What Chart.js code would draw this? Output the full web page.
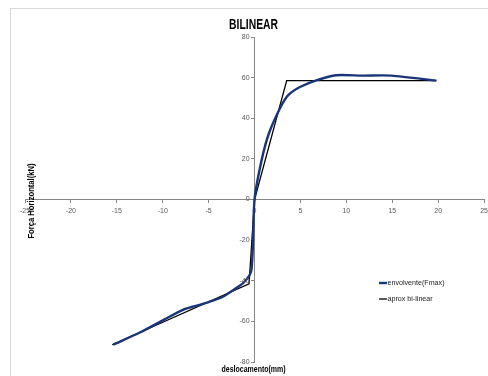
<!DOCTYPE html>
<html>
<head>
<meta charset="utf-8">
<script src="https://cdn.jsdelivr.net/npm/chart.js@4/dist/chart.umd.min.js"></script>
<style>
  html, body { margin: 0; padding: 0; background: #fff; overflow: hidden; }
  #wrap { position: relative; width: 488px; height: 376px; overflow: hidden; }
</style>
</head>
<body>
<div id="wrap"><canvas id="c" width="492" height="376"></canvas></div>
<script>
// Envelope of maximum horizontal force vs displacement
const envDisp  = [-15.4, -12.5, -9.8, -7.8, -6.5, -5.0, -3.5, -2.3, -1.2, -0.35, 0, 0.8, 1.6, 2.9, 3.7, 5.0, 6.8, 8.9, 11.8, 14.9, 19.8];
const envForce = [-71.5, -65.5, -59.0, -54.3, -52.5, -50.5, -48.0, -44.5, -41.0, -35.0, 0, 20.0, 33.0, 46.0, 51.5, 55.5, 58.8, 61.2, 61.0, 61.0, 58.5];

// Bilinear approximation
const biDisp  = [-15.5, -0.6, 0, 3.5, 19.8];
const biForce = [-71.5, -41.5, 0, 58.5, 58.5];

const xTicks = [-25, -20, -15, -10, -5, 0, 5, 10, 15, 20, 25];
const yTicks = [-80, -60, -40, -20, 0, 20, 40, 60, 80];

const seriesNames = ['envolvente(Fmax)', 'aprox bi-linear'];
const chartTitle = 'BILINEAR';
const xTitle = 'deslocamento(mm)';
const yTitle = 'Força Horizontal(kN)';

const toPoints = (xs, ys) => xs.map((x, i) => ({ x: x, y: ys[i] }));

const FONT = '"Liberation Sans", Arial, sans-serif';
const TICK_COLOR = '#595959';

// text squeezed horizontally to a narrow face
function narrowText(ctx, text, x, y, sx) {
  ctx.save();
  ctx.translate(x, y);
  ctx.scale(sx, 1);
  ctx.fillText(text, 0, 0);
  ctx.restore();
}

// Frame, titles, y tick labels and legend drawn around the chart
const decorations = {
  id: 'decorations',
  beforeDraw(chart) {
    const ctx = chart.ctx;
    ctx.save();
    ctx.strokeStyle = '#d9d9d9';
    ctx.lineWidth = 1;
    ctx.strokeRect(10.5, 8.5, 700, 700);
    ctx.restore();
  },
  afterDraw(chart) {
    const ctx = chart.ctx;
    const xs = chart.scales.x;
    const ys = chart.scales.y;
    const cx = xs.getPixelForValue(0);

    // y tick labels, left of the centred axis
    ctx.save();
    ctx.fillStyle = TICK_COLOR;
    ctx.font = '7px ' + FONT;
    ctx.textAlign = 'right';
    ctx.textBaseline = 'middle';
    yTicks.forEach(v => {
      ctx.fillText(String(v), cx - 5, ys.getPixelForValue(v));
    });
    ctx.restore();

    ctx.save();
    ctx.fillStyle = '#000';
    ctx.textAlign = 'center';
    ctx.textBaseline = 'middle';
    ctx.font = 'bold 14px ' + FONT;
    narrowText(ctx, chartTitle, cx - 1, 25, 0.74);

    ctx.font = 'bold 8.5px ' + FONT;
    narrowText(ctx, xTitle, cx - 1, 370, 0.82);

    ctx.translate(32, 201);
    ctx.rotate(-Math.PI / 2);
    narrowText(ctx, yTitle, 0, 0, 0.9);
    ctx.restore();

    // legend
    ctx.save();
    ctx.font = '7.5px ' + FONT;
    ctx.textAlign = 'left';
    ctx.textBaseline = 'middle';
    chart.data.datasets.forEach((ds, i) => {
      const y = 283 + i * 16;
      ctx.strokeStyle = ds.borderColor;
      ctx.lineWidth = ds.borderWidth;
      ctx.beginPath();
      ctx.moveTo(379, y);
      ctx.lineTo(387, y);
      ctx.stroke();
      ctx.fillStyle = '#222';
      narrowText(ctx, ds.label, 387.5, y, 0.95);
    });
    ctx.restore();
  }
};

new Chart(document.getElementById('c'), {
  type: 'scatter',
  data: {
    datasets: [
      {
        label: seriesNames[0],
        data: toPoints(envDisp, envForce),
        showLine: true,
        borderColor: '#1a3578',
        borderWidth: 2.4,
        pointRadius: 0,
        tension: 0.25,
        fill: false
      },
      {
        label: seriesNames[1],
        data: toPoints(biDisp, biForce),
        showLine: true,
        borderColor: '#000000',
        borderWidth: 1.3,
        pointRadius: 0,
        tension: 0,
        fill: false
      }
    ]
  },
  options: {
    responsive: false,
    animation: false,
    devicePixelRatio: 1,
    layout: { padding: { left: 25, right: 0, top: 37, bottom: 14 } },
    plugins: {
      legend: { display: false },
      title: { display: false },
      tooltip: { enabled: false }
    },
    scales: {
      x: {
        type: 'linear',
        position: { y: 0 },
        min: -25, max: 25,
        afterBuildTicks: (s) => { s.ticks = xTicks.map(v => ({ value: v })); },
        ticks: { color: TICK_COLOR, font: { size: 7, family: FONT }, padding: 4, maxRotation: 0 },
        grid: { drawOnChartArea: false, drawTicks: true, tickLength: 3, color: '#868686' },
        border: { color: '#868686', width: 1 }
      },
      y: {
        type: 'linear',
        position: { x: 0 },
        min: -80, max: 80,
        afterBuildTicks: (s) => { s.ticks = yTicks.map(v => ({ value: v })); },
        ticks: { display: false },
        grid: { drawOnChartArea: false, drawTicks: true, tickLength: 3, color: '#868686' },
        border: { color: '#868686', width: 1 }
      }
    }
  },
  plugins: [decorations]
});
</script>
</body>
</html>
